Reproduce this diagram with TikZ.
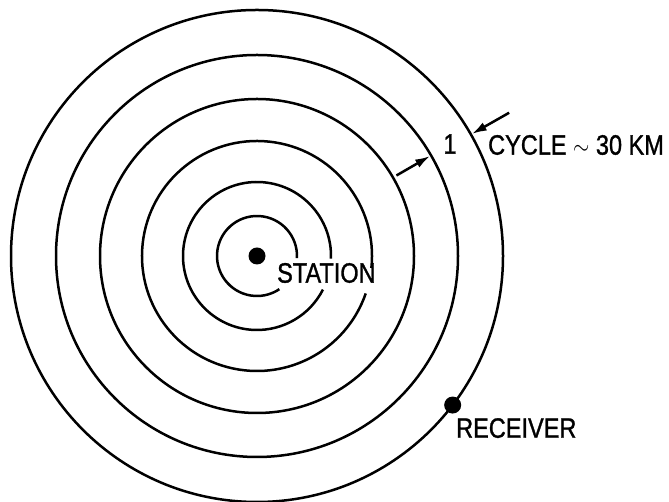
\documentclass[tikz,border=0pt]{standalone}
\usepackage{fontspec}
\setmainfont{Liberation Sans}
\newfontfamily\lblfont[FakeBold=1.2]{Liberation Sans}
\usepackage{tikz}
\usetikzlibrary{arrows.meta,positioning,calc}
\definecolor{Ink}{HTML}{000000}
\tikzset{
  ring/.style={draw=Ink,line width=2.5pt},
  dotnode/.style={circle,fill=Ink,inner sep=0pt,minimum size=17pt},
  lbl/.style={inner sep=0pt,text=Ink,xscale=0.84,font=\lblfont\fontsize{28}{30}\selectfont},
  arrow/.style={-{Latex[length=15pt,width=9pt]},line width=2.5pt,draw=Ink}
}
\begin{document}
\begin{tikzpicture}[x=1pt,y=1pt]
\useasboundingbox (0,0) rectangle (669,502);
\coordinate (c) at (257,246);
% full rings
\draw[ring] (c) circle[radius=246];
\draw[ring] (c) circle[radius=201];
\draw[ring] (c) circle[radius=157];
% rings broken at the label
\draw[ring] ($(c)+(-6:115)$) arc[start angle=-6,end angle=341,radius=115];
\draw[ring] ($(c)+(-2:74)$) arc[start angle=-2,end angle=333,radius=74];
\draw[ring] ($(c)+(-3:40)$) arc[start angle=-3,end angle=304,radius=40];
\node[dotnode] (station) at (c) {};
\node[dotnode] (receiver) at ($(c)+(-37.3:246)$) {};
\node[lbl,anchor=west] (stationlbl) at (277,229) {STATION};
\node[lbl,anchor=north west] (receiverlbl) at (456,84) {RECEIVER};
% one cycle
\coordinate (outtail) at ($(c)+(29.6:290)$);
\coordinate (outtip) at ($(c)+(29.6:247)$);
\coordinate (intail) at ($(c)+(30:161)$);
\coordinate (intip) at ($(c)+(30:200)$);
\draw[arrow] (outtail)--(outtip);\draw[arrow] (intail)--(intip);
\node[lbl] (one) at (450,358) {1};
\node[lbl,anchor=west] (cycle) at (488,357) {CYCLE $\sim$ 30 KM};
\end{tikzpicture}
\end{document}
